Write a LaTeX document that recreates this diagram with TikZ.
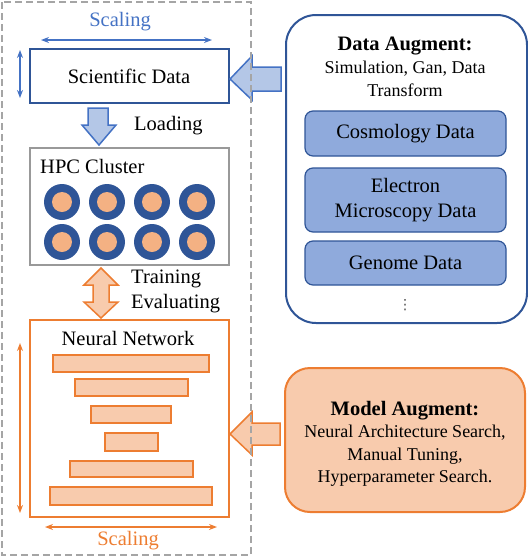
\documentclass[tikz,border=0pt]{standalone}
\usepackage{fontspec}
\setmainfont{Liberation Serif}
\newfontfamily\symfont{DejaVu Sans}
\usetikzlibrary{arrows.meta,positioning,calc}
\definecolor{DB}{HTML}{2F5597}
\definecolor{MB}{HTML}{4472C4}
\definecolor{LB}{HTML}{B4C7E7}
\definecolor{FB}{HTML}{8FAADC}
\definecolor{OR}{HTML}{ED7D31}
\definecolor{LO}{HTML}{F8CBAD}
\definecolor{PO}{HTML}{F4B183}
\definecolor{GR}{HTML}{A5A5A5}
\definecolor{HG}{HTML}{999999}

\begin{document}
\begin{tikzpicture}[x=1pt,y=-1pt,
    every node/.style={font=\fontsize{20.5}{24}\selectfont, inner sep=0pt},
    small/.style={font=\fontsize{18}{22.5}\selectfont},
    scal/.style={{Stealth[length=8pt,width=6pt]}-{Stealth[length=8pt,width=6pt]}, line width=1.3pt},
    blockB/.style={draw=MB, fill=LB, line width=1.5pt},
    blockO/.style={draw=OR, fill=LO, line width=1.5pt},
    dbox/.style={draw=DB, fill=FB, line width=1.2pt, rounded corners=8pt,
                 minimum width=201pt}]
  \useasboundingbox (0,0) rectangle (528,558);

  % left column
  \node[MB, anchor=base] (topscal) at (120,26) {Scaling};
  \draw[scal, MB] (41,40) -- (212,40);
  \draw[scal, MB] (20,50) -- (20,98);
  \node[draw=DB, line width=2pt, minimum width=199pt, minimum height=54pt] (sci) at (129.5,76) {};
  \node[anchor=base] (scilab) at (129,83) {Scientific Data};

  \draw[blockB] (88,108) -- (108,108) -- (108,125) -- (116,125) -- (99,145)
    -- (82,125) -- (88,125) -- cycle;
  \node[anchor=base west] (load) at (134,130) {Loading};

  \node[draw=HG, line width=2pt, minimum width=199pt, minimum height=117pt] (hpc) at (129.5,206.5) {};
  \node[anchor=base west] (hpclab) at (40,173) {HPC Cluster};
  \foreach \cx in {62,107,152,197}
    \foreach \cy in {202,242} {
      \fill[DB] (\cx,\cy) circle (18pt);
      \fill[PO] (\cx,\cy) circle (10pt);
    }

  \draw[blockO] (101,268) -- (118,285) -- (109,285) -- (109,302) -- (118,302)
    -- (101,318) -- (84,302) -- (93,302) -- (93,285) -- (84,285) -- cycle;
  \node[anchor=base west] (train) at (131,283) {Training};
  \node[anchor=base west] (eval) at (131,308) {Evaluating};

  \node[draw=OR, line width=2pt, minimum width=199pt, minimum height=197pt] (nn) at (129.5,418.5) {};
  \node[anchor=base] (nnlab) at (128,345) {Neural Network};
  \foreach \xa/\ya/\xb/\yb in {53/355/209/372, 75/379/188/396, 91/406/171/423,
                              105/433/158/451, 70/461/193/477, 50/487/212/505}
    \draw[OR, fill=LO, line width=1.5pt] (\xa,\ya) rectangle (\xb,\yb);
  \draw[scal, OR] (20,343) -- (20,513);
  \draw[scal, OR] (45,527) -- (217,527);
  \node[OR, anchor=base] (botscal) at (128,545) {Scaling};

  % right column
  \node[draw=DB, line width=2pt, rounded corners=30pt, minimum width=241pt,
        minimum height=308pt] (daug) at (406.5,169) {};
  \node[anchor=base] (dtitle) at (405,50) {\textbf{Data Augment:}};
  \node[small, align=center] (dtext) at (405,79) {Simulation, Gan, Data\\Transform};
  \node[dbox, minimum height=45pt] (cosmo) at (405.5,133.5) {Cosmology Data};
  \node[dbox, minimum height=64pt, align=center, font=\fontsize{20.5}{25.5}\selectfont] (elec) at (405.5,200) {Electron\\Microscopy Data};
  \node[dbox, minimum height=44pt] (geno) at (405.5,263) {Genome Data};
  \node[font=\fontsize{14}{16}\selectfont\symfont, text=black!70] (dots) at (405,305) {⋮};

  \node[draw=OR, fill=LO, line width=2pt, rounded corners=25pt, minimum width=240pt,
        minimum height=144pt] (maug) at (405,440) {};
  \node[anchor=base] (mtitle) at (405,415) {\textbf{Model Augment:}};
  \node[small, align=center] (mtext) at (405,456) {Neural Architecture Search,\\Manual Tuning,\\Hyperparameter Search.};

  % augment arrows
  \draw[blockB] (281,67) -- (252,67) -- (252,56) -- (230,79) -- (252,100)
    -- (252,91) -- (281,91) -- cycle;
  \draw[blockO] (280,423) -- (252,423) -- (252,412) -- (230,434) -- (252,455)
    -- (252,445) -- (280,445) -- cycle;

  \draw[GR, line width=2pt, dash pattern=on 7pt off 4pt] (2,2) rectangle (251,555);
\end{tikzpicture}
\end{document}
